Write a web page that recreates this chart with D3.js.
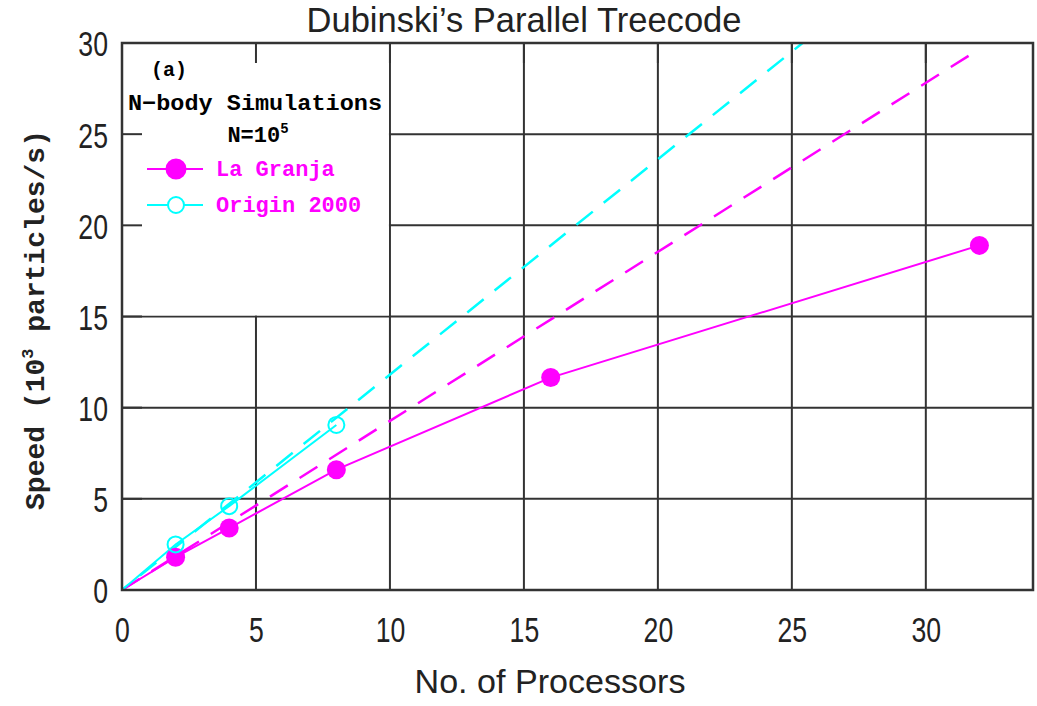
<!DOCTYPE html>
<html lang="en">
<head>
<meta charset="utf-8">
<title>Dubinski's Parallel Treecode</title>
<style>
  body { margin: 0; background: #fff; }
  .grid line { stroke: #333; stroke-width: 2px; }
  .frame { fill: none; stroke: #333; stroke-width: 2.5px; }
  .tick text { font-family: "Liberation Sans", Arial, sans-serif; font-size: 36px; fill: #222; }
  .mono { font-family: "Liberation Mono", "Courier New", monospace; font-weight: bold; }
</style>
</head>
<body>
<div id="graphic"></div>
<script src="https://cdnjs.cloudflare.com/ajax/libs/d3/7.8.5/d3.min.js"></script>
<script>
var xTicks = [0, 5, 10, 15, 20, 25, 30],
    yTicks = [0, 5, 10, 15, 20, 25, 30];

var granjaX = [0, 2, 4, 8, 16, 32],
    granjaY = [0, 1.8, 3.4, 6.6, 11.65, 18.9];
var originX = [0, 2, 4, 8],
    originY = [0, 2.5, 4.6, 9.05];
var granjaIdealX = [0, 31.6],
    granjaIdealY = [0, 29.3];
var originIdealX = [0, 25.4],
    originIdealY = [0, 30];

var width = 1037, height = 706,
    margin = {left: 122, right: 4, top: 43, bottom: 116};

var svg = d3.select('#graphic').append('svg')
    .attr('width', width).attr('height', height);

var x = d3.scaleLinear().domain([0, 34]).range([margin.left, width - margin.right]);
var y = d3.scaleLinear().domain([0, 30]).range([height - margin.bottom, margin.top]);

var magenta = '#ff00ff', cyan = '#00ffff';

// grid
var grid = svg.append('g').classed('grid', true);
grid.selectAll('.gx').data(xTicks.slice(1)).enter().append('line')
    .attr('x1', function(d) { return x(d); }).attr('x2', function(d) { return x(d); })
    .attr('y1', y(0)).attr('y2', y(30));
grid.selectAll('.gy').data(yTicks.slice(1)).enter().append('line')
    .attr('y1', function(d) { return y(d); }).attr('y2', function(d) { return y(d); })
    .attr('x1', x(0)).attr('x2', x(34));

// legend area blanks the grid
svg.append('rect')
    .attr('x', x(0)).attr('y', y(30))
    .attr('width', x(10) - x(0) - 1).attr('height', y(15) - y(30) - 1)
    .attr('fill', '#fff');

// inward ticks
var tl = 20, ticks = svg.append('g').classed('grid', true);
ticks.selectAll('.tt').data(xTicks.slice(1)).enter().append('line')
    .attr('x1', function(d) { return x(d); }).attr('x2', function(d) { return x(d); })
    .attr('y1', y(30)).attr('y2', y(30) + tl);
ticks.selectAll('.tl').data(yTicks.slice(1)).enter().append('line')
    .attr('y1', function(d) { return y(d); }).attr('y2', function(d) { return y(d); })
    .attr('x1', x(0)).attr('x2', x(0) + tl);

// lines
var line = d3.line().x(function(d) { return x(d[0]); }).y(function(d) { return y(d[1]); });
var zip = function(a, b) { return a.map(function(v, i) { return [v, b[i]]; }); };

svg.append('path').datum(zip(granjaIdealX, granjaIdealY)).attr('d', line)
    .attr('fill', 'none').attr('stroke', magenta).attr('stroke-width', 2.5)
    .attr('stroke-dasharray', '21,14');
svg.append('path').datum(zip(originIdealX, originIdealY)).attr('d', line)
    .attr('fill', 'none').attr('stroke', cyan).attr('stroke-width', 2.5)
    .attr('stroke-dasharray', '21,14').attr('stroke-dashoffset', 12);
svg.append('path').datum(zip(granjaX, granjaY)).attr('d', line)
    .attr('fill', 'none').attr('stroke', magenta).attr('stroke-width', 2);
svg.append('path').datum(zip(originX, originY)).attr('d', line)
    .attr('fill', 'none').attr('stroke', cyan).attr('stroke-width', 2);

svg.selectAll('.pg').data(zip(granjaX, granjaY).slice(1)).enter().append('circle')
    .attr('cx', function(d) { return x(d[0]); }).attr('cy', function(d) { return y(d[1]); })
    .attr('r', 9.5).attr('fill', magenta);
svg.selectAll('.po').data(zip(originX, originY).slice(1)).enter().append('circle')
    .attr('cx', function(d) { return x(d[0]); }).attr('cy', function(d) { return y(d[1]); })
    .attr('r', 8).attr('fill', 'none').attr('stroke', cyan).attr('stroke-width', 2);

// frame
svg.append('rect').classed('frame', true)
    .attr('x', x(0)).attr('y', y(30))
    .attr('width', x(34) - x(0)).attr('height', y(0) - y(30));

// tick labels (tall, narrow glyphs like the original)
svg.append('g').attr('transform', 'translate(0,' + y(0) + ')')
    .call(d3.axisBottom(x).tickValues(xTicks).tickSize(0).tickPadding(0))
    .call(function(g) { g.select('.domain').remove(); })
    .selectAll('text').attr('y', 52).attr('dy', 0).attr('transform', 'scale(0.74,1)');
svg.append('g').attr('transform', 'translate(' + x(0) + ',0)')
    .call(d3.axisLeft(y).tickValues(yTicks).tickSize(0).tickPadding(0))
    .call(function(g) { g.select('.domain').remove(); })
    .selectAll('text').attr('x', -19).attr('dy', '0.36em').attr('transform', 'scale(0.74,1)');

// titles
svg.append('text').attr('x', 524).attr('y', 32).attr('text-anchor', 'middle')
    .attr('textLength', 435).attr('lengthAdjust', 'spacingAndGlyphs')
    .style('font-family', '"Liberation Sans", Arial, sans-serif').style('font-size', '35px')
    .attr('fill', '#222').text('Dubinski\u2019s Parallel Treecode');
svg.append('text').attr('x', 550).attr('y', 693).attr('text-anchor', 'middle')
    .attr('textLength', 271).attr('lengthAdjust', 'spacingAndGlyphs')
    .style('font-family', '"Liberation Sans", Arial, sans-serif').style('font-size', '33px')
    .attr('fill', '#222').text('No. of Processors');

var yl = svg.append('text').classed('mono', true)
    .attr('transform', 'translate(44,320) rotate(-90)').attr('text-anchor', 'middle')
    .style('font-size', '28px').attr('fill', '#222');
yl.append('tspan').text('Speed (10');
yl.append('tspan').attr('dy', -11).style('font-size', '17px').text('3');
yl.append('tspan').attr('dy', 11).text(' particles/s)');

// legend
var lg = svg.append('g').classed('mono', true).style('font-size', '22px');
lg.append('text').attr('x', 151).attr('y', 76).style('font-size', '20px').text('(a)');
lg.append('text').attr('x', 255).attr('y', 110).attr('text-anchor', 'middle')
    .attr('textLength', 254).attr('lengthAdjust', 'spacingAndGlyphs').text('N\u2212body Simulations');
var nt = lg.append('text').attr('x', 258).attr('y', 142).attr('text-anchor', 'middle');
nt.append('tspan').text('N=10');
nt.append('tspan').attr('dy', -9).style('font-size', '14px').text('5');

var legendItems = [
  {label: 'La Granja', color: magenta, filled: true, ly: 169},
  {label: 'Origin 2000', color: cyan, filled: false, ly: 205}
];
legendItems.forEach(function(it) {
  lg.append('line').attr('x1', 147).attr('x2', 203).attr('y1', it.ly).attr('y2', it.ly)
    .attr('stroke', it.color).attr('stroke-width', 2);
  lg.append('circle').attr('cx', 176).attr('cy', it.ly).attr('r', it.filled ? 9.5 : 8)
    .attr('fill', it.filled ? it.color : '#fff').attr('stroke', it.color).attr('stroke-width', 2);
  lg.append('text').attr('x', 216).attr('y', it.ly + 7).attr('fill', magenta).text(it.label);
});
</script>
</body>
</html>
